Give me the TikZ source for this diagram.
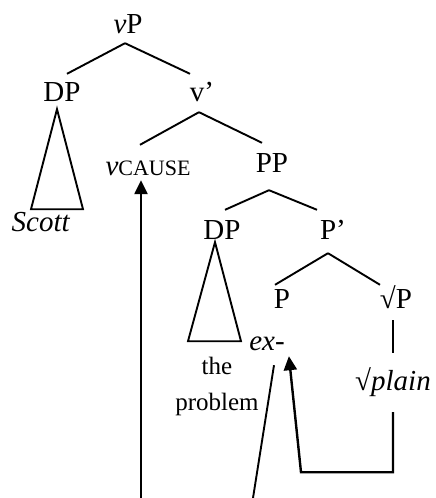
\documentclass[tikz,border=0pt]{standalone}
\usepackage{fontspec}
\setmainfont{Liberation Serif}
\usetikzlibrary{arrows.meta}
\tikzset{
  lbl/.style={anchor=base, inner sep=0pt, text height=19pt, text depth=0pt, font=\fontsize{29}{34}\selectfont},
  small/.style={anchor=base, inner sep=0pt, font=\fontsize{25}{30}\selectfont},
  branch/.style={line width=1.9pt},
  move/.style={line width=2.4pt, -{Triangle[length=14pt,width=13pt]}}
}

\begin{document}
\begin{tikzpicture}[x=1pt, y=-1pt]
    \useasboundingbox (0,0) rectangle (436,498);

    % Tree labels
    \node[lbl] (vP) at (128,33) {\textit{v}P};
    \node[lbl] (dp1) at (62,101) {DP};
    \node[lbl] (vbar) at (202,101) {v’};
    \node[lbl] (vcause) at (148,175) {\textit{v}{\fontsize{22}{26}\selectfont CAUSE}};
    \node[lbl] (PP) at (272,172) {PP};
    \node[lbl] (dp2) at (222,239) {DP};
    \node[lbl] (Pbar) at (333,239) {P’};
    \node[lbl] (P) at (282,308) {P};
    \node[lbl] (rootP) at (396,308) {√P};

    % Leaves
    \node[lbl] (scott) at (41,231) {\textit{Scott}};
    \node[lbl] (ex) at (267,350) {\textit{ex-}};
    \node[small] (the) at (217,374) {the};
    \node[small] (problem) at (217,410) {problem};
    \node[lbl] (plain) at (393,390) {√\textit{plain}};

    % Branches
    \draw[branch] ([xshift=-3pt,yshift=-10pt]vP.south) -- ([xshift=5pt,yshift=8pt]dp1.north);
    \draw[branch] ([xshift=-3pt,yshift=-10pt]vP.south) -- ([xshift=-12pt,yshift=8pt]vbar.north);
    \draw[branch] ([xshift=-3pt,yshift=-11pt]vbar.south) -- ([xshift=-8pt,yshift=11pt]vcause.north);
    \draw[branch] ([xshift=-3pt,yshift=-11pt]vbar.south) -- ([xshift=-10pt,yshift=10pt]PP.north);
    \draw[branch] ([xshift=-3pt,yshift=-18pt]PP.south) -- ([xshift=3pt,yshift=10pt]dp2.north);
    \draw[branch] ([xshift=-3pt,yshift=-18pt]PP.south) -- ([xshift=-16pt,yshift=10pt]Pbar.north);
    \draw[branch] ([xshift=-5pt,yshift=-14pt]Pbar.south) -- ([xshift=-7pt,yshift=4pt]P.north);
    \draw[branch] ([xshift=-5pt,yshift=-14pt]Pbar.south) -- ([xshift=-16pt,yshift=4pt]rootP.north);
    \draw[branch] ([xshift=-3pt,yshift=-12pt]rootP.south) -- ([yshift=18pt]plain.north);

    % Triangles
    \draw[branch] ([xshift=-5pt,yshift=-8pt]dp1.south) -- ++(-26,100) -- ++(52,0) -- cycle;
    \draw[branch] ([xshift=-7pt,yshift=-3pt]dp2.south) -- ++(-27,99) -- ++(53,0) -- cycle;

    % Movement
    \coordinate (low1) at (141,498);
    \coordinate (low2) at (253,498);
    \draw[move] (low1) -- ([xshift=-7pt,yshift=-5pt]vcause.south);
    \draw[branch] (low2) -- ([xshift=7pt,yshift=-15pt]ex.south);
    \draw[move] ([yshift=-22pt]plain.south) -- ++(0,60) -- ++(-92,0) -- ([xshift=4pt,yshift=-6pt]ex.south east);
\end{tikzpicture}
\end{document}
